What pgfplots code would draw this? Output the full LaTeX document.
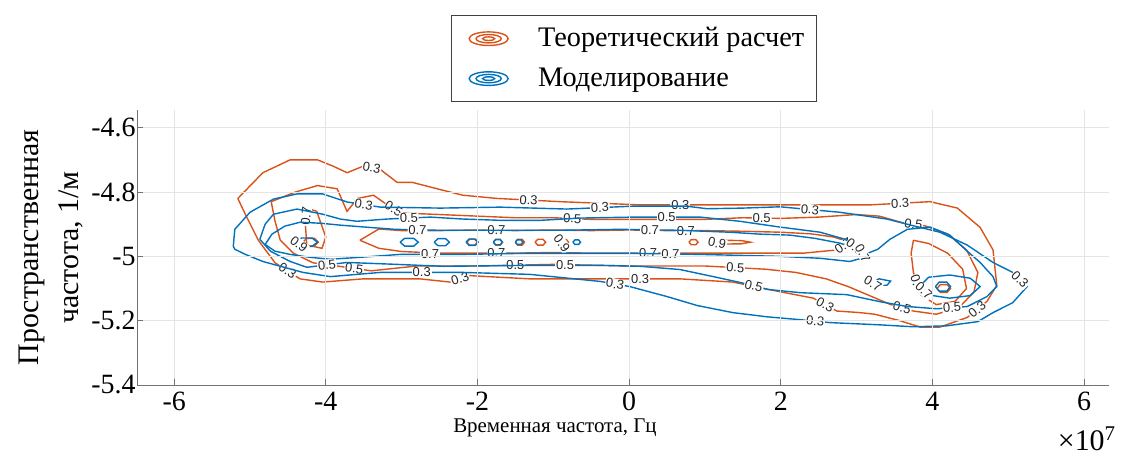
\documentclass[border=0pt]{standalone}
\usepackage{pgfplots}
\pgfplotsset{compat=1.18}
\usepackage{fontspec}
\setmainfont{Liberation Serif}
\newfontfamily\labfont{Liberation Sans}
\definecolor{mlorange}{RGB}{217,83,25}
\definecolor{mlblue}{RGB}{0,114,189}
\definecolor{gridgray}{RGB}{228,228,228}

\pgfplotsset{
  contour/clabels/.style={contour label style={font={\labfont\fontsize{6.5}{7}\selectfont}, fill=white, inner sep=0.4pt}},
  contour/label node code/.code={\node {\color{black!85}\pgfmathprintnumber{#1}};},
  ringicon/.style={legend image code/.code={
    \draw[#1, line width=0.7bp] (14.75bp,0bp) ellipse [x radius=9.75bp, y radius=3.4bp];
    \draw[#1, line width=0.7bp] (14.75bp,0bp) ellipse [x radius=6.3bp, y radius=2.1bp];
    \draw[#1, line width=0.7bp] (14.75bp,0bp) ellipse [x radius=3bp, y radius=0.9bp];
    \path[draw=none, fill=none] (0bp,0bp) -- (37.5bp,0bp);
  }},
}

\begin{document}
\begin{tikzpicture}
\useasboundingbox (-68.5bp,-37bp) rectangle (502bp,192.5bp);
\begin{axis}[
  view={0}{90},
  scale only axis,
  width=486bp, height=137.5bp,
  xmin=-6.49, xmax=6.33,
  ymin=-5.4, ymax=-4.545,
  zmin=0, zmax=1,
  clip=false,
  xtick={-6,-4,-2,0,2,4,6},
  ytick={-5.4,-5.2,-5,-4.8,-4.6},
  ztick=\empty,
  axis lines*=left,
  axis line style={black!55, line width=0.5bp},
  tick align=inside,
  major tick length=3bp,
  tick style={black!55, line width=0.5bp},
  grid=major,
  major grid style={gridgray, line width=0.5bp},
  /pgf/number format/assume math mode=true,
  ticklabel style={font=\fontsize{14}{15}\selectfont},
  yticklabel style={inner xsep=0.5bp},
  xlabel={Временная частота, Гц},
  ylabel={Пространственная\\частота, 1/м},
  xlabel style={font=\fontsize{10.5}{12}\selectfont, at={(ticklabel cs:0.43)}, anchor=north, yshift=3bp},
  ylabel style={font=\fontsize{15}{20}\selectfont, align=center},
  legend style={at={(0.511,1.03)}, anchor=south, draw=black!75, fill=white,
    font=\fontsize{14.2}{16}\selectfont, inner xsep=4bp, inner ysep=4bp,
    row sep=5bp, cells={anchor=west}},
]

% theoretical model: contour levels 0.3 / 0.5 / 0.7 / 0.9
\addplot3[
  contour prepared={draw color=mlorange, label distance=90pt, clabels},
  line width=0.7bp, ringicon=mlorange,
] coordinates {
(-5.16,-4.82,0.3) (-4.83,-4.74,0.3) (-4.47,-4.70,0.3) (-4.11,-4.70,0.3) (-3.90,-4.72,0.3)
(-3.72,-4.74,0.3) (-3.51,-4.72,0.3) (-3.28,-4.73,0.3) (-3.06,-4.77,0.3) (-2.86,-4.77,0.3)
(-2.53,-4.79,0.3) (-2.19,-4.81,0.3) (-1.74,-4.82,0.3) (-0.91,-4.83,0.3) (0.15,-4.84,0.3)
(1.20,-4.84,0.3) (2.26,-4.84,0.3) (3.18,-4.84,0.3) (3.97,-4.83,0.3) (4.33,-4.85,0.3)
(4.63,-4.91,0.3) (4.80,-4.98,0.3) (4.85,-5.09,0.3) (4.72,-5.14,0.3) (4.46,-5.19,0.3)
(4.10,-5.22,0.3) (3.84,-5.22,0.3) (3.57,-5.20,0.3) (3.24,-5.18,0.3) (3.05,-5.175,0.3)
(2.74,-5.17,0.3) (2.43,-5.13,0.3) (1.99,-5.11,0.3) (1.37,-5.08,0.3) (0.67,-5.07,0.3)
(-0.38,-5.07,0.3) (-1.31,-5.07,0.3) (-2.10,-5.06,0.3) (-2.36,-5.08,0.3) (-2.76,-5.07,0.3)
(-3.51,-5.07,0.3) (-4.04,-5.08,0.3) (-4.34,-5.07,0.3) (-4.67,-5.02,0.3) (-4.89,-4.95,0.3)
(-5.06,-4.87,0.3) (-5.16,-4.82,0.3)

(-4.72,-4.83,0.5) (-4.40,-4.80,0.5) (-4.11,-4.78,0.5) (-3.85,-4.79,0.5) (-3.72,-4.86,0.5)
(-3.58,-4.82,0.5) (-3.37,-4.81,0.5) (-3.19,-4.84,0.5) (-3.02,-4.865,0.5) (-2.5,-4.87,0.5)
(-2.0,-4.875,0.5) (-1.5,-4.88,0.5) (-1.0,-4.88,0.5) (-0.5,-4.885,0.5) (0,-4.885,0.5)
(0.5,-4.885,0.5) (1.0,-4.885,0.5) (1.5,-4.88,0.5) (2.0,-4.882,0.5) (2.5,-4.878,0.5)
(3.0,-4.87,0.5) (3.3,-4.875,0.5) (3.6,-4.895,0.5) (3.9,-4.905,0.5) (4.2,-4.93,0.5)
(4.45,-4.98,0.5) (4.6,-5.05,0.5) (4.55,-5.11,0.5) (4.35,-5.16,0.5) (4.05,-5.18,0.5)
(3.75,-5.17,0.5) (3.45,-5.15,0.5) (3.2,-5.125,0.5) (2.9,-5.095,0.5) (2.6,-5.07,0.5)
(2.2,-5.05,0.5) (1.8,-5.04,0.5) (1.0,-5.03,0.5) (0,-5.03,0.5) (-1.0,-5.025,0.5)
(-2.0,-5.03,0.5) (-2.8,-5.03,0.5) (-3.4,-5.045,0.5) (-3.85,-5.03,0.5) (-4.17,-5.02,0.5)
(-4.43,-4.99,0.5) (-4.6,-4.95,0.5) (-4.67,-4.89,0.5) (-4.72,-4.83,0.5)

(-4.25,-4.85,0.7) (-4.12,-4.86,0.7) (-4.0,-4.94,0.7) (-4.05,-4.975,0.7) (-4.25,-4.965,0.7)
(-4.27,-4.90,0.7) (-4.25,-4.85,0.7)

(-3.55,-4.95,0.7) (-3.3,-4.915,0.7) (-3.0,-4.92,0.7) (-2.5,-4.92,0.7) (-2.0,-4.918,0.7)
(-1.5,-4.92,0.7) (-1.0,-4.918,0.7) (-0.5,-4.92,0.7) (0,-4.918,0.7) (0.5,-4.92,0.7)
(1.0,-4.92,0.7) (1.5,-4.922,0.7) (2.0,-4.925,0.7) (2.4,-4.93,0.7) (2.7,-4.94,0.7)
(2.9,-4.955,0.7) (2.75,-4.98,0.7) (2.3,-4.99,0.7) (1.5,-4.99,0.7) (1.0,-4.99,0.7)
(0.5,-4.99,0.7) (0,-4.99,0.7) (-0.5,-4.99,0.7) (-1.0,-4.988,0.7) (-1.5,-4.99,0.7)
(-2.0,-4.99,0.7) (-2.5,-4.99,0.7) (-3.0,-4.985,0.7) (-3.3,-4.975,0.7) (-3.55,-4.95,0.7)

(3.75,-4.95,0.7) (3.95,-4.96,0.7) (4.2,-4.99,0.7) (4.4,-5.04,0.7) (4.45,-5.10,0.7)
(4.3,-5.14,0.7) (4.05,-5.15,0.7) (3.85,-5.12,0.7) (3.75,-5.05,0.7) (3.72,-4.99,0.7)
(3.75,-4.95,0.7)

(-0.90,-4.956,0.9) (-0.875,-4.948,0.9) (-0.825,-4.948,0.9) (-0.80,-4.956,0.9) (-0.825,-4.964,0.9) (-0.875,-4.964,0.9) (-0.90,-4.956,0.9)

(1.10,-4.956,0.9) (1.22,-4.950,0.9) (1.48,-4.951,0.9) (1.60,-4.956,0.9) (1.48,-4.961,0.9) (1.22,-4.962,0.9) (1.10,-4.956,0.9)
};
\addlegendentry{Теоретический расчет}

% theoretical model: small 0.9 islands along the ridge (unlabelled)
\addplot3[
  contour prepared={draw color=mlorange, labels=false},
  line width=0.7bp, forget plot,
] coordinates {
(-4.30,-4.956,0.9) (-4.25,-4.944,0.9) (-4.15,-4.944,0.9) (-4.10,-4.956,0.9) (-4.15,-4.968,0.9) (-4.25,-4.968,0.9) (-4.30,-4.956,0.9)

(-2.14,-4.956,0.9) (-2.105,-4.947,0.9) (-2.035,-4.947,0.9) (-2.0,-4.956,0.9) (-2.035,-4.965,0.9) (-2.105,-4.965,0.9) (-2.14,-4.956,0.9)

(-1.79,-4.956,0.9) (-1.76,-4.947,0.9) (-1.70,-4.947,0.9) (-1.67,-4.956,0.9) (-1.70,-4.965,0.9) (-1.76,-4.965,0.9) (-1.79,-4.956,0.9)

(-1.50,-4.956,0.9) (-1.47,-4.947,0.9) (-1.41,-4.947,0.9) (-1.38,-4.956,0.9) (-1.41,-4.965,0.9) (-1.47,-4.965,0.9) (-1.50,-4.956,0.9)

(-1.24,-4.956,0.9) (-1.205,-4.947,0.9) (-1.135,-4.947,0.9) (-1.10,-4.956,0.9) (-1.135,-4.965,0.9) (-1.205,-4.965,0.9) (-1.24,-4.956,0.9)

(0.79,-4.956,0.9) (0.82,-4.948,0.9) (0.88,-4.948,0.9) (0.91,-4.956,0.9) (0.88,-4.964,0.9) (0.82,-4.964,0.9) (0.79,-4.956,0.9)

(4.06,-5.10,0.9) (4.105,-5.088,0.9) (4.195,-5.088,0.9) (4.24,-5.10,0.9) (4.195,-5.112,0.9) (4.105,-5.112,0.9) (4.06,-5.10,0.9)
};

% simulation: same contour levels
\addplot3[
  contour prepared={draw color=mlblue, label distance=110pt, clabels},
  line width=0.7bp, ringicon=mlblue,
] coordinates {
(-5.22,-4.969,0.3) (-5.20,-4.916,0.3) (-5.0,-4.863,0.3) (-4.69,-4.822,0.3) (-4.38,-4.806,0.3)
(-4.04,-4.806,0.3) (-3.72,-4.831,0.3) (-3.28,-4.847,0.3) (-2.49,-4.85,0.3) (-1.70,-4.847,0.3)
(-0.82,-4.853,0.3) (0.05,-4.844,0.3) (0.76,-4.844,0.3) (1.03,-4.852,0.3) (1.5,-4.85,0.3)
(1.99,-4.846,0.3) (2.78,-4.863,0.3) (3.40,-4.884,0.3) (3.75,-4.905,0.3) (4.10,-4.925,0.3)
(4.46,-4.965,0.3) (4.80,-5.019,0.3) (5.06,-5.05,0.3) (5.25,-5.094,0.3) (5.06,-5.144,0.3)
(4.80,-5.175,0.3) (4.60,-5.203,0.3) (4.19,-5.216,0.3) (3.75,-5.219,0.3) (3.31,-5.213,0.3)
(2.65,-5.206,0.3) (2.26,-5.197,0.3) (1.82,-5.188,0.3) (1.37,-5.175,0.3) (0.90,-5.153,0.3)
(0.50,-5.125,0.3) (0.01,-5.094,0.3) (-0.38,-5.078,0.3) (-1.31,-5.056,0.3) (-2.19,-5.05,0.3)
(-3.28,-5.05,0.3) (-3.94,-5.063,0.3) (-4.30,-5.05,0.3) (-4.83,-5.016,0.3) (-5.06,-4.994,0.3)
(-5.20,-4.978,0.3) (-5.22,-4.969,0.3)

(-4.87,-4.947,0.5) (-4.80,-4.90,0.5) (-4.69,-4.869,0.5) (-4.38,-4.853,0.5) (-4.04,-4.869,0.5)
(-3.81,-4.884,0.5) (-3.59,-4.891,0.5) (-3.19,-4.884,0.5) (-2.62,-4.878,0.5) (-2.19,-4.884,0.5)
(-1.70,-4.888,0.5) (-1.17,-4.888,0.5) (-0.65,-4.881,0.5) (0.05,-4.878,0.5) (0.94,-4.878,0.5)
(1.46,-4.891,0.5) (1.99,-4.909,0.5) (2.52,-4.925,0.5) (2.85,-4.947,0.5) (3.11,-4.994,0.5)
(3.28,-4.978,0.5) (3.44,-4.947,0.5) (3.67,-4.916,0.5) (3.97,-4.909,0.5) (4.23,-4.934,0.5)
(4.46,-4.984,0.5) (4.63,-5.019,0.5) (4.80,-5.063,0.5) (4.85,-5.094,0.5) (4.72,-5.125,0.5)
(4.46,-5.156,0.5) (4.06,-5.163,0.5) (3.67,-5.156,0.5) (3.31,-5.141,0.5) (2.87,-5.119,0.5)
(2.26,-5.113,0.5) (1.83,-5.103,0.5) (1.46,-5.081,0.5) (1.11,-5.063,0.5) (0.67,-5.041,0.5)
(0.15,-5.031,0.5) (-0.38,-5.028,0.5) (-1.31,-5.028,0.5) (-2.45,-5.031,0.5) (-3.06,-5.025,0.5)
(-3.72,-5.019,0.5) (-4.25,-5.034,0.5) (-4.47,-5.016,0.5) (-4.73,-4.984,0.5) (-4.87,-4.947,0.5)

(-4.80,-4.963,0.7) (-4.71,-4.931,0.7) (-4.54,-4.906,0.7) (-4.34,-4.894,0.7) (-4.07,-4.897,0.7)
(-3.81,-4.903,0.7) (-3.48,-4.909,0.7) (-3.09,-4.916,0.7) (-2.49,-4.919,0.7) (-1.70,-4.919,0.7)
(-0.91,-4.919,0.7) (-0.12,-4.916,0.7) (0.67,-4.919,0.7) (1.33,-4.925,0.7) (1.73,-4.931,0.7)
(2.12,-4.934,0.7) (2.45,-4.944,0.7) (2.78,-4.959,0.7) (3.05,-4.978,0.7) (3.11,-5.003,0.7)
(2.91,-5.016,0.7) (2.52,-5.006,0.7) (1.99,-5.0,0.7) (1.46,-4.997,0.7) (0.94,-4.994,0.7)
(0.15,-4.991,0.7) (-0.65,-4.991,0.7) (-1.44,-4.991,0.7) (-2.23,-4.994,0.7) (-3.02,-4.994,0.7)
(-3.55,-5.003,0.7) (-3.94,-5.009,0.7) (-4.21,-5.003,0.7) (-4.47,-4.994,0.7) (-4.67,-4.984,0.7)
(-4.80,-4.963,0.7)

(3.83,-5.094,0.7) (3.95,-5.065,0.7) (4.23,-5.058,0.7) (4.50,-5.068,0.7) (4.63,-5.094,0.7)
(4.50,-5.122,0.7) (4.23,-5.130,0.7) (3.95,-5.120,0.7) (3.83,-5.094,0.7)

(3.18,-5.080,0.7) (3.30,-5.070,0.7) (3.45,-5.077,0.7) (3.40,-5.090,0.7) (3.25,-5.090,0.7) (3.18,-5.080,0.7)

(-4.39,-4.956,0.9) (-4.32,-4.943,0.9) (-4.18,-4.943,0.9) (-4.11,-4.956,0.9) (-4.18,-4.969,0.9) (-4.32,-4.969,0.9) (-4.39,-4.956,0.9)
};
\addlegendentry{Моделирование}

% simulation: small 0.9 islands (unlabelled)
\addplot3[
  contour prepared={draw color=mlblue, labels=false},
  line width=0.7bp, forget plot,
] coordinates {
(-3.02,-4.956,0.9) (-2.96,-4.944,0.9) (-2.84,-4.944,0.9) (-2.78,-4.956,0.9) (-2.84,-4.968,0.9) (-2.96,-4.968,0.9) (-3.02,-4.956,0.9)

(-2.57,-4.956,0.9) (-2.52,-4.945,0.9) (-2.42,-4.945,0.9) (-2.37,-4.956,0.9) (-2.42,-4.967,0.9) (-2.52,-4.967,0.9) (-2.57,-4.956,0.9)

(-2.15,-4.956,0.9) (-2.11,-4.946,0.9) (-2.03,-4.946,0.9) (-1.99,-4.956,0.9) (-2.03,-4.966,0.9) (-2.11,-4.966,0.9) (-2.15,-4.956,0.9)

(-1.79,-4.956,0.9) (-1.76,-4.948,0.9) (-1.70,-4.948,0.9) (-1.67,-4.956,0.9) (-1.70,-4.964,0.9) (-1.76,-4.964,0.9) (-1.79,-4.956,0.9)

(-1.50,-4.956,0.9) (-1.475,-4.949,0.9) (-1.425,-4.949,0.9) (-1.40,-4.956,0.9) (-1.425,-4.963,0.9) (-1.475,-4.963,0.9) (-1.50,-4.956,0.9)

(-0.74,-4.956,0.9) (-0.715,-4.949,0.9) (-0.665,-4.949,0.9) (-0.64,-4.956,0.9) (-0.665,-4.963,0.9) (-0.715,-4.963,0.9) (-0.74,-4.956,0.9)

(4.04,-5.094,0.9) (4.09,-5.080,0.9) (4.19,-5.080,0.9) (4.24,-5.094,0.9) (4.19,-5.108,0.9) (4.09,-5.108,0.9) (4.04,-5.094,0.9)
};

\node[font=\fontsize{15}{16}\selectfont, anchor=center] at (rel axis cs:1,0,0) [xshift=-11bp, yshift=-27bp] {×10\textsuperscript{7}};
\end{axis}
\end{tikzpicture}
\end{document}
